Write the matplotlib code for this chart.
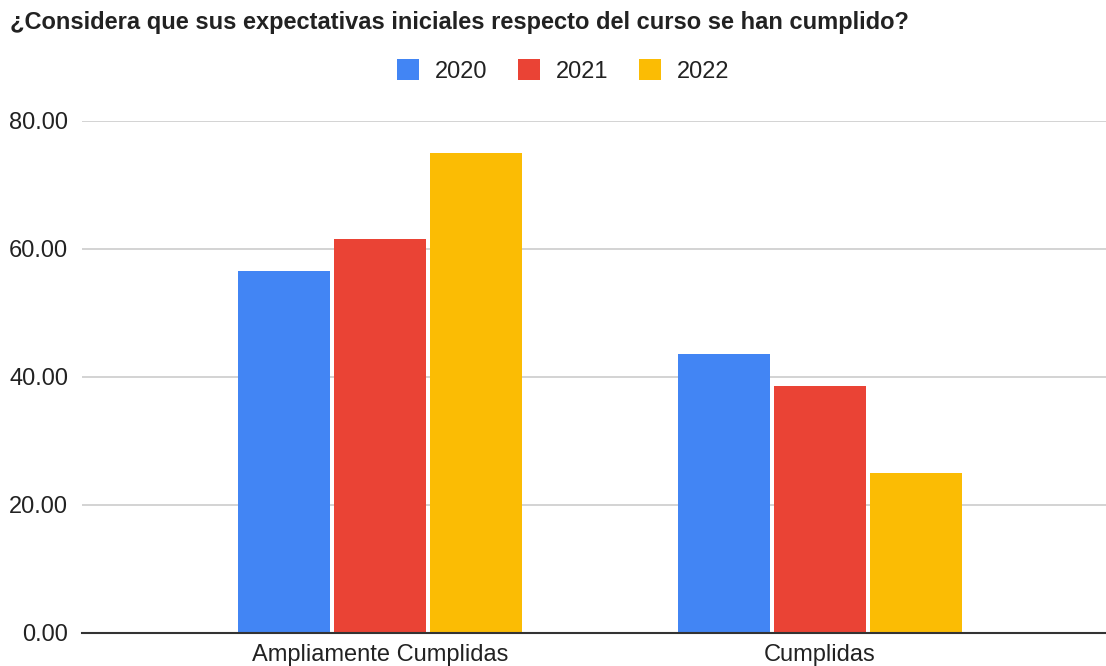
import matplotlib
matplotlib.use("Agg")
import matplotlib.pyplot as plt
import numpy as np

# ── Data ─────────────────────────────────────────────────────────────────────
categories = ["Ampliamente Cumplidas", "Cumplidas"]
years      = ["2020", "2021", "2022"]
vals_2020  = [56.52, 43.48]
vals_2021  = [61.54, 38.46]
vals_2022  = [75.00, 25.00]
yticks     = [0, 20, 40, 60, 80]

COLORS = ["#4285F4", "#EA4335", "#FBBC04"]
TEXT   = "#222222"

plt.rcParams["font.family"] = ["Liberation Sans", "DejaVu Sans"]

fig = plt.figure(figsize=(11.06, 6.66), dpi=100)
ax = fig.add_axes([82 / 1106, 1 - 632.5 / 666, 1024 / 1106, 512 / 666])

x = np.arange(len(categories))
width = 0.209
step = 0.218
for i, (vals, yr) in enumerate(zip([vals_2020, vals_2021, vals_2022], years)):
    ax.bar(x + (i - 1) * step, vals, width, color=COLORS[i], label=yr, zorder=3)

ax.set_xlim(-0.677, 1.65)
ax.set_ylim(0, 80)
ax.set_yticks(yticks)
ax.set_yticklabels([f"{v:.2f}" for v in yticks])
ax.set_xticks(x)
ax.set_xticklabels(categories)
ax.tick_params(axis="both", length=0, labelsize=17, colors=TEXT)
ax.tick_params(axis="y", pad=10)
ax.tick_params(axis="x", pad=8)

ax.grid(axis="y", color="#CCCCCC", linewidth=1.2, zorder=0)
for s in ["top", "right", "left"]:
    ax.spines[s].set_visible(False)
ax.spines["bottom"].set_color("#333333")
ax.spines["bottom"].set_linewidth(1.5)
ax.spines["bottom"].set_zorder(4)

fig.text(10 / 1106, 1 - 23 / 666, "¿Considera que sus expectativas iniciales respecto del curso se han cumplido?",
         fontsize=17, fontweight="bold", color=TEXT, ha="left", va="center")

fig.legend(loc="center", bbox_to_anchor=(563 / 1106, 1 - 71 / 666), ncol=3, frameon=False,
           fontsize=17, handlelength=0.95, handleheight=0.95, columnspacing=1.3,
           handletextpad=0.65, labelcolor=TEXT)

fig.savefig("out.png", dpi=100)
